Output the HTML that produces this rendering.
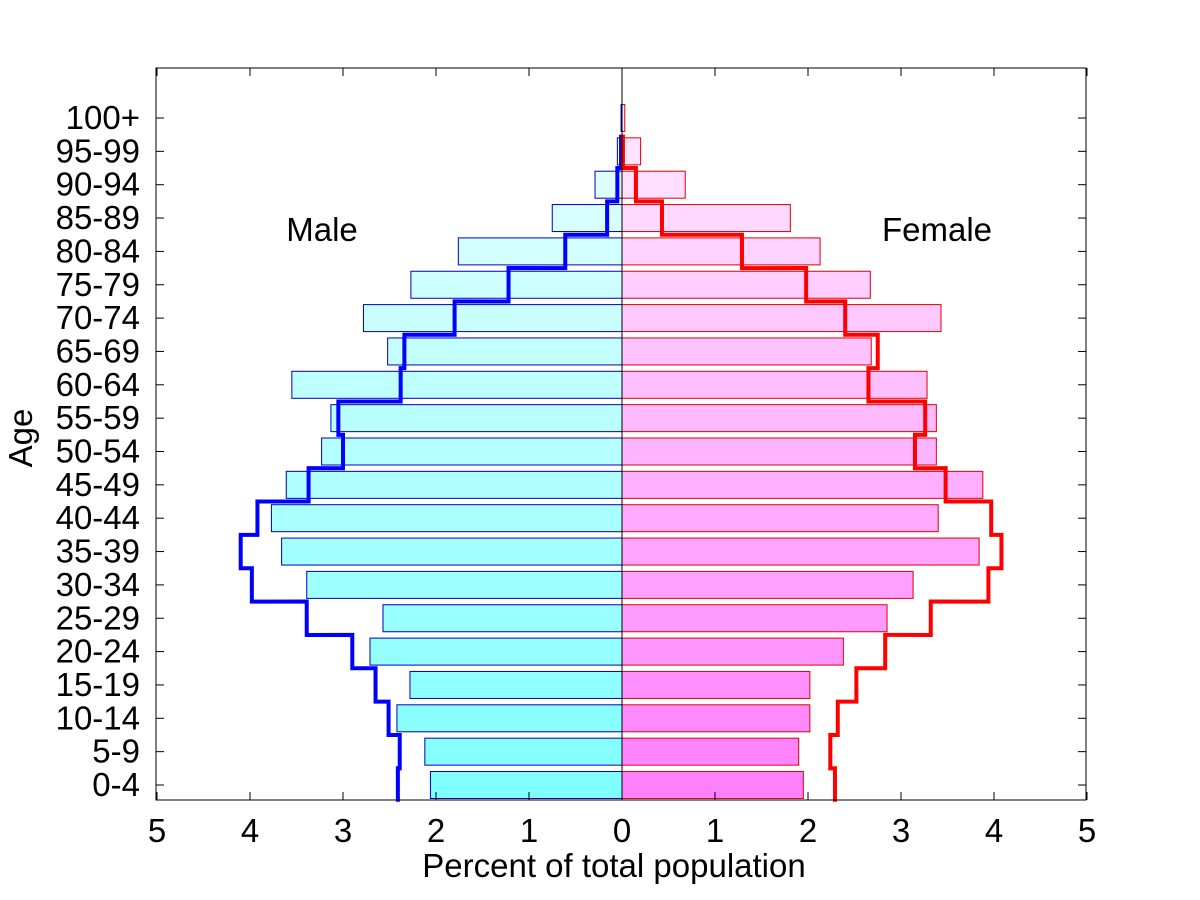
<!DOCTYPE html>
<html><head><meta charset="utf-8"><style>body{margin:0;background:#fff}svg{display:block;font-family:"Liberation Sans",Arial,sans-serif}</style></head>
<body>
<svg id="c" width="1200" height="900"></svg>
<script>
const categories=["0-4","5-9","10-14","15-19","20-24","25-29","30-34","35-39","40-44","45-49","50-54","55-59","60-64","65-69","70-74","75-79","80-84","85-89","90-94","95-99","100+"];
const maleBars=[2.06,2.12,2.42,2.28,2.71,2.57,3.39,3.66,3.77,3.61,3.23,3.13,3.55,2.52,2.78,2.27,1.76,0.75,0.29,0.05,0.01];
const femaleBars=[1.95,1.90,2.02,2.02,2.38,2.85,3.13,3.84,3.40,3.88,3.38,3.38,3.28,2.68,3.43,2.67,2.13,1.81,0.68,0.20,0.03];
const maleLine=[2.41,2.39,2.51,2.65,2.90,3.39,3.98,4.10,3.92,3.37,3.00,3.05,2.38,2.34,1.80,1.22,0.61,0.16,0.05,0.01];
const femaleLine=[2.29,2.24,2.32,2.52,2.83,3.32,3.94,4.08,3.97,3.48,3.15,3.26,2.65,2.75,2.40,1.98,1.29,0.43,0.15,0.01];
const xTicks=[-5,-4,-3,-2,-1,0,1,2,3,4,5];
const NS="http://www.w3.org/2000/svg",svg=document.getElementById('c');
const L=156,R=1086,T=68,B=800;
const X=v=>622+v*93, Y=i=>785-i*33.35;
function mk(t,a,p){const e=document.createElementNS(NS,t);for(const k in a)e.setAttribute(k,a[k]);(p||svg).appendChild(e);return e;}
function lerp(a,b,t){return Math.round(a+(b-a)*t);}
const n=categories.length;
categories.forEach((c,i)=>{
  const t=i/(n-1);
  const mc=`rgb(${lerp(128,232,t)},255,255)`, fc=`rgb(255,${lerp(128,232,t)},255)`;
  let r=mk('rect',{x:X(-maleBars[i]),y:Y(i)-13.5,width:maleBars[i]*93,height:27,fill:mc,stroke:'#0000c0','stroke-width':1});
  
  
  r=mk('rect',{x:X(0),y:Y(i)-13.5,width:femaleBars[i]*93,height:27,fill:fc,stroke:'#e00000','stroke-width':1});
  
  
  let tx=mk('text',{x:140,y:Y(i)+11,'font-size':33,'text-anchor':'end'});tx.textContent=c;
  
  
  mk('line',{x1:L,x2:L+8,y1:Y(i),y2:Y(i),stroke:'#000'});
  mk('line',{x1:R,x2:R-8,y1:Y(i),y2:Y(i),stroke:'#000'});
});
function step(arr,sign,color,name){
  let d='';
  arr.forEach((v,i)=>{const x=X(sign*v),y0=Y(i)+16.7,y1=Y(i)-16.7;d+=(i?'L':'M')+x+','+y0+'L'+x+','+y1;});
  const p=mk('path',{d:d,fill:'none',stroke:color,'stroke-width':4});
  
  
}
step(maleLine,-1,'#0000ff','male-line');
step(femaleLine,1,'#ff0000','female-line');
mk('line',{x1:X(0),x2:X(0),y1:T,y2:B,stroke:'#000'});
const fr=mk('rect',{x:L,y:T,width:R-L,height:B-T,fill:'none',stroke:'#000'});


xTicks.forEach(v=>{
  mk('line',{x1:X(v),x2:X(v),y1:B,y2:B-8,stroke:'#000'});
  mk('line',{x1:X(v),x2:X(v),y1:T,y2:T+8,stroke:'#000'});
  const t=mk('text',{x:X(v),y:842,'font-size':33,'text-anchor':'middle'});t.textContent=Math.abs(v);
  
  
});
function lab(x,y,s,name,extra){const t=mk('text',Object.assign({x:x,y:y,'font-size':33,'text-anchor':'middle'},extra||{}));t.textContent=s;
  
  }
lab(322,241,'Male','male-label');
lab(937,241,'Female','female-label');
lab(614,877,'Percent of total population','x-axis-title');
lab(32,438,'Age','y-axis-title',{transform:'rotate(-90 32 438)'});
</script>
</body></html>
